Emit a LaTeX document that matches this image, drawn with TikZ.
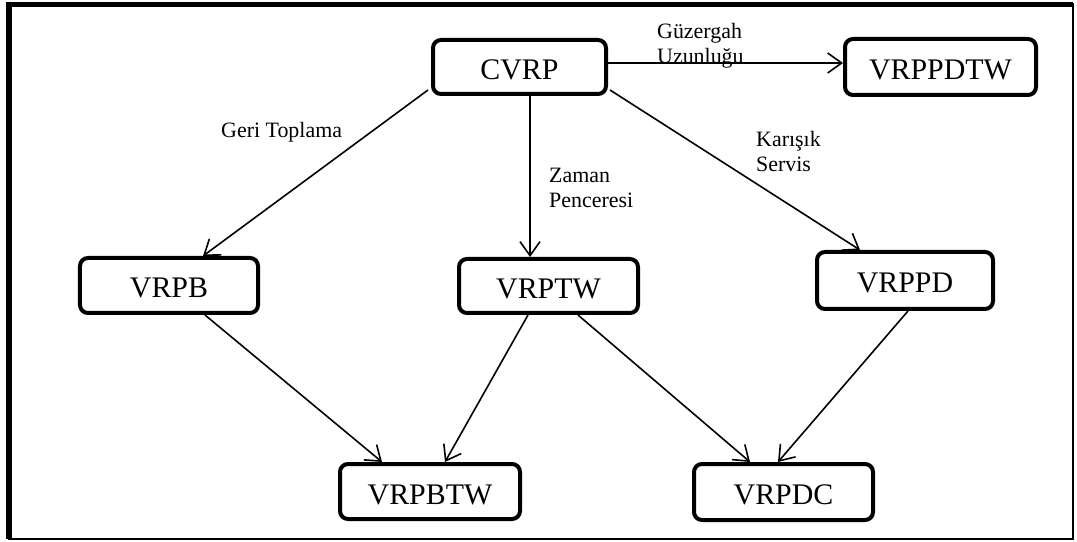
\documentclass[tikz,border=0pt]{standalone}
\usepackage{fontspec}
\setmainfont{Liberation Serif}
\usetikzlibrary{arrows.meta}
\begin{document}
\begin{tikzpicture}[x=1bp,y=-1bp,
  box/.style={draw, line width=4bp, rounded corners=8bp, fill=white, inner sep=0pt,
    text height=25bp, text depth=0pt, font=\fontsize{30}{34}\selectfont},
  lbl/.style={anchor=north west, inner sep=0pt, align=left,
    font=\fontsize{22}{25}\selectfont},
  arr/.style={line width=1.6bp, -{Straight Barb[length=14bp,width=20bp,line width=1.6bp]}}
]
\useasboundingbox (0,0) rectangle (1077,542);

% outer frame: thin right/bottom, heavy left/top
\draw[line width=2bp] (9,4.5) rectangle (1072.5,538.5);
\draw[line width=6bp] (9,2) -- (9,539);
\draw[line width=5.5bp] (6,4.5) -- (1073,4.5);

% problem variants
\node[box, minimum width=173bp, minimum height=54bp] (cvrp)    at (519.5,67)  {CVRP};
\node[box, minimum width=191bp, minimum height=56bp] (vrppdtw) at (940.5,67)  {VRPPDTW};
\node[box, minimum width=178bp, minimum height=55bp] (vrpb)    at (169,285.5) {VRPB};
\node[box, minimum width=179bp, minimum height=54bp] (vrptw)   at (548.5,286) {VRPTW};
\node[box, minimum width=176bp, minimum height=57bp] (vrppd)   at (905,280.5) {VRPPD};
\node[box, minimum width=180bp, minimum height=55bp] (vrpbtw)  at (430,491.5) {VRPBTW};
\node[box, minimum width=179bp, minimum height=56bp] (vrpdc)   at (783.5,492) {VRPDC};

% extensions
\draw[arr] ([yshift=4bp]cvrp.east) -- ([yshift=4bp]vrppdtw.west);
\draw[arr] ([xshift=-3bp,yshift=6bp]cvrp.south west) -- ([xshift=34bp]vrpb.north);
\draw[arr] ([xshift=10.5bp]cvrp.south) -- ([xshift=-18.5bp]vrptw.north);
\draw[arr] ([xshift=2bp,yshift=6bp]cvrp.south east) -- ([xshift=-45bp]vrppd.north);

\draw[arr] ([xshift=36bp]vrpb.south) -- ([xshift=-48bp]vrpbtw.north);
\draw[arr] ([xshift=-20.5bp]vrptw.south) -- ([xshift=15bp]vrpbtw.north);
\draw[arr] ([xshift=29.5bp]vrptw.south) -- ([xshift=-33.5bp]vrpdc.north);
\draw[arr] ([xshift=3bp]vrppd.south) -- ([xshift=-5.5bp]vrpdc.north);

% edge labels
\node[lbl] (l1) at (657,23)  {Güzergah\\Uzunluğu};
\node[lbl] (l2) at (221,122) {Geri Toplama};
\node[lbl] (l3) at (549,168) {Zaman\\Penceresi};
\node[lbl] (l4) at (756,131) {Karışık\\Servis};
\end{tikzpicture}
\end{document}
